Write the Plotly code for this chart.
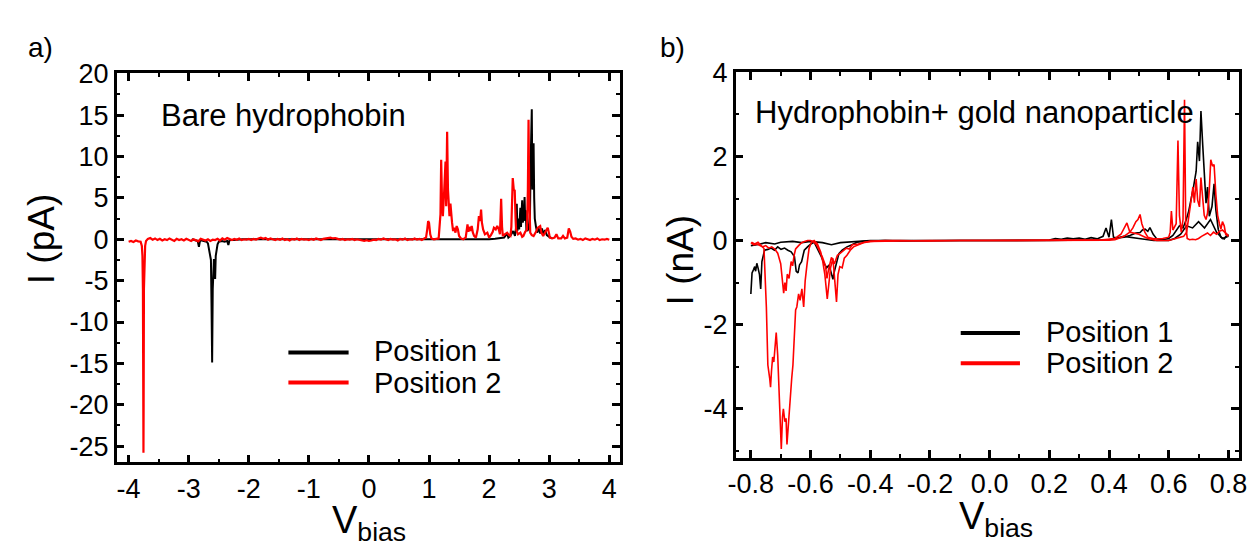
import plotly.graph_objects as go

W, H = 1258, 546

# ---------------- panel a) bare hydrophobin, current in pA ----------------
# (V_bias, I)
a_pos1 = [(-2.95, 0.0), (-2.9, -0.1), (-2.85, -0.2), (-2.83, -0.9), (-2.81, -0.1), (-2.75, -0.2),
          (-2.7, -0.3), (-2.68, -0.5), (-2.66, -1.2), (-2.64, -1.8), (-2.63, -2.5), (-2.62, -8.0),
          (-2.61, -14.9), (-2.6, -6.0), (-2.59, -3.0), (-2.58, -2.4), (-2.57, -3.1), (-2.56, -4.8),
          (-2.55, -2.0), (-2.54, -1.5), (-2.53, -0.9), (-2.52, -0.6), (-2.5, -0.3), (-2.45, -0.2),
          (-2.4, -0.3), (-2.36, -0.2), (-2.34, -0.7), (-2.32, -0.1), (-2.25, -0.1), (-2.1, 0.0),
          (-1.8, 0.0), (-1.5, 0.0), (-1.2, 0.0), (-0.9, 0.0), (-0.6, 0.0), (-0.3, 0.0), (0.0, -0.05),
          (0.3, 0.0), (0.6, 0.0), (0.9, 0.0), (1.2, 0.0), (1.5, 0.0), (1.8, 0.0), (2.0, 0.0),
          (2.1, 0.05), (2.2, 0.1), (2.25, 0.2), (2.3, 0.7), (2.32, 0.2), (2.36, 0.5), (2.4, 1.0),
          (2.43, 0.4), (2.45, 1.5), (2.46, 4.3), (2.47, 1.0), (2.49, 2.5), (2.5, 1.2), (2.52, 3.8),
          (2.53, 1.5), (2.55, 4.7), (2.56, 2.0), (2.58, 3.0), (2.59, 5.1), (2.6, 2.2), (2.61, 3.5),
          (2.62, 1.2), (2.64, 1.0), (2.66, 1.5), (2.68, 3.0), (2.69, 9.0), (2.7, 13.5), (2.71, 15.7),
          (2.72, 6.0), (2.73, 10.0), (2.74, 11.6), (2.75, 5.0), (2.76, 2.5), (2.78, 1.5), (2.8, 0.8),
          (2.82, 1.4), (2.85, 0.7), (2.88, 1.3), (2.9, 0.6), (2.93, 1.1), (2.96, 0.5), (3.0, 0.3),
          (3.05, 0.1)]

a_pos2 = [(-4.0, -0.3), (-3.96, -0.2), (-3.92, -0.32), (-3.88, -0.15), (-3.84, -0.25), (-3.8, -0.3),
          (-3.78, -0.8), (-3.77, -2.0), (-3.762, -6.0), (-3.756, -20.0), (-3.753, -25.8), (-3.75, -20.0),
          (-3.745, -6.0), (-3.737, -2.0), (-3.725, -0.8), (-3.71, -0.2), (-3.68, 0.05), (-3.64, 0.15),
          (-3.6, -0.05), (-3.56, 0.1), (-3.52, -0.1), (-3.48, 0.05), (-3.44, -0.15), (-3.4, 0.0),
          (-3.36, -0.1), (-3.32, 0.1), (-3.28, -0.05), (-3.24, -0.2), (-3.2, 0.05), (-3.16, -0.1),
          (-3.12, 0.0), (-3.08, -0.15), (-3.04, 0.05), (-3.0, -0.05), (-2.96, -0.2), (-2.92, 0.0),
          (-2.88, -0.1), (-2.84, -0.25), (-2.8, 0.05), (-2.76, -0.1), (-2.72, -0.15), (-2.68, 0.0),
          (-2.64, -0.2), (-2.6, -0.05), (-2.56, -0.1), (-2.52, 0.05), (-2.48, -0.15), (-2.44, 0.1),
          (-2.4, -0.05), (-2.36, 0.15), (-2.32, 0.0), (-2.28, -0.1), (-2.24, 0.05), (-2.2, -0.05),
          (-2.16, 0.1), (-2.12, -0.1), (-2.08, 0.0), (-2.04, -0.05), (-2.0, 0.05), (-1.96, -0.1),
          (-1.92, 0.05), (-1.88, -0.05), (-1.84, 0.1), (-1.8, 0.2), (-1.76, 0.05), (-1.72, 0.15),
          (-1.68, -0.05), (-1.64, 0.1), (-1.6, 0.0), (-1.56, -0.1), (-1.52, 0.05), (-1.48, -0.05),
          (-1.44, 0.1), (-1.4, -0.1), (-1.36, 0.0), (-1.32, -0.15), (-1.28, 0.05), (-1.24, -0.05),
          (-1.2, 0.1), (-1.16, -0.1), (-1.12, 0.05), (-1.08, -0.05), (-1.04, 0.0), (-1.0, -0.1),
          (-0.96, 0.05), (-0.92, -0.05), (-0.88, 0.1), (-0.84, 0.0), (-0.8, -0.1), (-0.76, 0.05),
          (-0.72, 0.1), (-0.68, 0.15), (-0.64, 0.2), (-0.6, 0.1), (-0.56, 0.15), (-0.52, 0.05),
          (-0.48, -0.05), (-0.44, 0.05), (-0.4, -0.1), (-0.36, 0.0), (-0.32, -0.05), (-0.28, 0.05),
          (-0.24, -0.1), (-0.2, 0.0), (-0.16, -0.05), (-0.12, -0.15), (-0.08, -0.2), (-0.04, -0.1),
          (0.0, -0.2), (0.04, -0.15), (0.08, -0.05), (0.12, -0.1), (0.16, 0.05), (0.2, -0.05),
          (0.24, 0.1), (0.28, 0.0), (0.32, -0.1), (0.36, 0.05), (0.4, -0.05), (0.44, 0.0),
          (0.48, -0.15), (0.52, 0.05), (0.56, -0.05), (0.6, 0.1), (0.64, -0.1), (0.68, 0.0),
          (0.72, -0.05), (0.76, 0.1), (0.8, -0.05), (0.84, 0.05), (0.88, -0.1), (0.92, 0.1),
          (0.95, 0.2), (0.97, 1.2), (0.985, 2.2), (1.0, 2.0), (1.02, 0.6), (1.04, 0.1), (1.08, 0.0),
          (1.12, 0.05), (1.16, 0.1), (1.19, 3.0), (1.202, 9.6), (1.215, 5.0), (1.23, 2.8), (1.25, 5.5),
          (1.274, 9.4), (1.285, 4.0), (1.301, 13.0), (1.315, 6.0), (1.328, 4.4), (1.34, 2.8),
          (1.356, 4.3), (1.37, 2.5), (1.383, 2.0), (1.4, 1.0), (1.42, 1.4), (1.44, 0.8), (1.46, 1.6),
          (1.48, 1.2), (1.5, 0.4), (1.53, 0.1), (1.57, 0.0), (1.61, 0.2), (1.64, 1.8), (1.655, 0.9),
          (1.67, 1.5), (1.69, 1.0), (1.71, 1.6), (1.73, 0.8), (1.75, 0.4), (1.78, 0.2), (1.81, 1.2),
          (1.83, 2.8), (1.85, 2.2), (1.866, 3.6), (1.88, 2.0), (1.9, 1.2), (1.93, 0.6), (1.97, 0.8),
          (2.0, 0.2), (2.03, 0.5), (2.06, 0.9), (2.08, 1.4), (2.11, 1.2), (2.135, 1.6), (2.16, 1.2),
          (2.18, 0.6), (2.2, 4.9), (2.215, 1.5), (2.228, 0.4), (2.26, 0.6), (2.3, 0.8), (2.33, 0.5),
          (2.354, 0.4), (2.37, 1.5), (2.393, 7.4), (2.41, 6.0), (2.426, 5.9), (2.44, 2.5),
          (2.448, 1.2), (2.48, 0.6), (2.52, 0.8), (2.55, 0.3), (2.57, 0.4), (2.6, 0.9), (2.63, 1.2),
          (2.645, 6.0), (2.656, 14.45), (2.668, 5.0), (2.684, 0.8), (2.71, 0.5), (2.74, 0.4),
          (2.78, 0.9), (2.81, 1.4), (2.85, 1.6), (2.87, 0.8), (2.9, 0.4), (2.94, 0.9), (2.975, 1.4),
          (3.0, 0.6), (3.01, 0.2), (3.05, 0.1), (3.09, 0.2), (3.12, 0.6), (3.15, 0.1), (3.2, 0.1),
          (3.23, 0.4), (3.26, 0.1), (3.3, 0.2), (3.326, 1.3), (3.35, 0.9), (3.37, 0.3), (3.4, 0.05),
          (3.44, 0.1), (3.48, -0.05), (3.52, 0.05), (3.56, -0.1), (3.6, 0.1), (3.64, 0.0),
          (3.68, -0.1), (3.72, 0.05), (3.76, -0.05), (3.8, 0.1), (3.84, -0.1), (3.88, 0.0),
          (3.92, -0.05), (3.96, 0.05), (4.0, -0.05)]

# ---------------- panel b) hydrophobin + gold nanoparticle, current in nA ----------------
b_pos1_up = [(-0.8, -1.27), (-0.798, -1.04), (-0.796, -0.77), (-0.791, -0.69), (-0.787, -0.62),
             (-0.784, -0.73), (-0.78, -0.54), (-0.776, -0.65), (-0.771, -0.81), (-0.767, -1.15),
             (-0.763, -0.5), (-0.758, -0.35), (-0.754, -0.23), (-0.743, -0.21), (-0.732, -0.18),
             (-0.721, -0.23), (-0.71, -0.15), (-0.699, -0.21), (-0.687, -0.18), (-0.676, -0.23),
             (-0.665, -0.27), (-0.654, -0.38), (-0.648, -0.73), (-0.642, -0.77), (-0.637, -0.58),
             (-0.63, -0.5), (-0.621, -0.23), (-0.61, -0.15), (-0.599, -0.08), (-0.588, -0.04),
             (-0.577, -0.19), (-0.566, -0.35), (-0.555, -0.54), (-0.546, -0.65), (-0.538, -0.58),
             (-0.53, -0.81), (-0.525, -0.92), (-0.52, -0.73), (-0.513, -0.54), (-0.505, -0.31),
             (-0.494, -0.23), (-0.478, -0.15), (-0.461, -0.1), (-0.445, -0.04), (-0.423, -0.02),
             (-0.4, -0.01), (-0.35, 0.0), (-0.3, -0.01), (-0.2, 0.0), (-0.1, 0.0), (0.0, 0.0),
             (0.1, 0.0), (0.2, 0.01), (0.22, 0.05), (0.24, 0.03), (0.26, 0.06), (0.28, 0.04),
             (0.3, 0.06), (0.32, 0.03), (0.34, 0.07), (0.36, 0.04), (0.38, 0.1), (0.39, 0.3),
             (0.4, 0.08), (0.408, 0.5), (0.415, 0.08), (0.43, 0.06), (0.45, 0.08), (0.47, 0.12),
             (0.49, 0.18), (0.504, 0.19), (0.512, 0.25), (0.521, 0.27), (0.53, 0.22), (0.537, 0.31),
             (0.548, 0.15), (0.56, 0.04), (0.58, 0.02), (0.6, 0.05), (0.614, 0.12), (0.625, 0.25),
             (0.636, 0.35), (0.648, 0.3), (0.659, 0.5), (0.667, 0.7), (0.675, 0.96), (0.683, 1.27),
             (0.692, 1.65), (0.697, 2.35), (0.703, 1.89), (0.708, 3.08), (0.714, 2.27), (0.719, 1.65),
             (0.725, 0.89), (0.73, 1.27), (0.736, 0.58), (0.745, 0.81), (0.752, 1.35), (0.758, 0.73),
             (0.766, 0.27), (0.775, 0.08), (0.786, 0.04), (0.797, 0.15), (0.8, 0.1)]

b_pos1_down = [(-0.8, -0.12), (-0.78, -0.1), (-0.75, -0.05), (-0.72, -0.08), (-0.7, -0.04),
               (-0.66, -0.02), (-0.63, -0.05), (-0.6, -0.02), (-0.56, -0.05), (-0.53, -0.1),
               (-0.5, -0.05), (-0.45, -0.02), (-0.4, 0.0), (-0.2, 0.0), (0.0, 0.0), (0.2, 0.0),
               (0.4, 0.02), (0.42, 0.05), (0.45, 0.1), (0.5, 0.05), (0.55, 0.0), (0.6, 0.0),
               (0.62, 0.05), (0.64, 0.15), (0.66, 0.35), (0.68, 0.3), (0.7, 0.45), (0.72, 0.3),
               (0.74, 0.5), (0.76, 0.2), (0.78, 0.05), (0.8, 0.1)]

b_pos2_up = [(-0.798, -0.04), (-0.787, -0.08), (-0.776, -0.04), (-0.765, -0.12), (-0.756, -0.19),
             (-0.748, -1.58), (-0.743, -2.96), (-0.737, -3.27), (-0.734, -3.49), (-0.731, -3.12),
             (-0.727, -2.77), (-0.723, -2.89), (-0.718, -2.5), (-0.715, -2.19), (-0.71, -2.73),
             (-0.703, -4.04), (-0.698, -4.96), (-0.694, -4.2), (-0.691, -4.0), (-0.686, -4.31),
             (-0.682, -4.23), (-0.679, -4.85), (-0.674, -4.27), (-0.669, -3.89), (-0.663, -3.27),
             (-0.659, -2.96), (-0.654, -2.23), (-0.65, -1.65), (-0.646, -1.58), (-0.64, -1.27),
             (-0.635, -1.42), (-0.629, -1.15), (-0.623, -1.58), (-0.618, -0.96), (-0.612, -0.58),
             (-0.605, -0.19), (-0.597, -0.04), (-0.588, 0.0), (-0.577, -0.08), (-0.566, -0.27),
             (-0.559, -0.5), (-0.552, -0.81), (-0.544, -1.39), (-0.538, -0.88), (-0.533, -0.65),
             (-0.525, -0.42), (-0.52, -0.96), (-0.513, -1.46), (-0.508, -0.81), (-0.502, -0.62),
             (-0.494, -0.65), (-0.487, -0.42), (-0.478, -0.35), (-0.467, -0.23), (-0.456, -0.15),
             (-0.439, -0.1), (-0.423, -0.05), (-0.4, -0.02), (-0.35, 0.0), (-0.3, 0.0),
             (-0.2, -0.01), (-0.1, 0.0), (0.0, 0.0), (0.1, 0.0), (0.2, 0.0), (0.3, 0.01),
             (0.38, 0.02), (0.42, 0.05), (0.44, 0.15), (0.455, 0.35), (0.46, 0.42), (0.47, 0.2),
             (0.48, 0.3), (0.49, 0.45), (0.497, 0.5), (0.504, 0.62), (0.51, 0.4), (0.52, 0.2),
             (0.53, 0.08), (0.55, 0.04), (0.58, 0.05), (0.6, 0.08), (0.605, 0.2), (0.609, 0.7),
             (0.614, 0.25), (0.625, 0.4), (0.631, 2.38), (0.636, 0.6), (0.642, 0.2), (0.648, 0.5),
             (0.653, 3.35), (0.657, 0.4), (0.662, 0.05), (0.67, 0.02), (0.68, 0.03), (0.69, 0.02),
             (0.7, 0.05), (0.71, 0.1), (0.72, 0.15), (0.73, 0.18), (0.74, 0.12), (0.75, 0.2),
             (0.76, 0.15), (0.77, 0.22), (0.78, 0.25), (0.79, 0.18), (0.8, 0.12)]

b_pos2_down = [(-0.8, -0.05), (-0.79, -0.1), (-0.78, -0.08), (-0.77, -0.12), (-0.76, -0.15),
               (-0.75, -0.12), (-0.74, -0.18), (-0.73, -0.15), (-0.72, -0.2), (-0.71, -0.3),
               (-0.7, -0.55), (-0.695, -0.9), (-0.69, -1.25), (-0.686, -1.0), (-0.682, -1.2),
               (-0.678, -0.8), (-0.672, -0.9), (-0.665, -0.5), (-0.66, -0.6), (-0.655, -0.35),
               (-0.65, -0.2), (-0.64, -0.12), (-0.63, -0.05), (-0.62, -0.02), (-0.61, 0.0),
               (-0.6, 0.0), (-0.59, -0.03), (-0.58, -0.1), (-0.57, -0.25), (-0.56, -0.4),
               (-0.55, -0.6), (-0.545, -0.9), (-0.54, -0.7), (-0.535, -0.5), (-0.53, -0.4),
               (-0.52, -0.55), (-0.51, -0.35), (-0.5, -0.3), (-0.49, -0.25), (-0.48, -0.18),
               (-0.47, -0.2), (-0.46, -0.1), (-0.44, -0.08), (-0.42, -0.04), (-0.4, -0.02),
               (-0.2, 0.0), (0.0, 0.0), (0.2, 0.0), (0.3, 0.0), (0.4, 0.01), (0.42, 0.02),
               (0.45, 0.1), (0.47, 0.2), (0.5, 0.15), (0.53, 0.05), (0.56, 0.0), (0.6, 0.0),
               (0.63, 0.05), (0.65, 0.1), (0.66, 0.2), (0.67, 0.65), (0.676, 1.0), (0.681, 1.27),
               (0.686, 0.9), (0.692, 1.46), (0.697, 0.96), (0.703, 0.8), (0.708, 1.5), (0.714, 1.0),
               (0.719, 0.6), (0.725, 0.5), (0.73, 0.65), (0.736, 1.2), (0.741, 1.92), (0.747, 1.77),
               (0.752, 1.81), (0.758, 1.1), (0.764, 0.6), (0.77, 0.4), (0.775, 0.27), (0.78, 0.45),
               (0.786, 0.35), (0.791, 0.15), (0.8, 0.1)]

# tick labels (hyphen minus like the original)
a_xticks = [-4, -3, -2, -1, 0, 1, 2, 3, 4]
a_xlabels = ['-4', '-3', '-2', '-1', '0', '1', '2', '3', '4']
a_yticks = [20, 15, 10, 5, 0, -5, -10, -15, -20, -25]
a_ylabels = ['20', '15', '10', '5', '0', '-5', '-10', '-15', '-20', '-25']
b_xticks = [-0.8, -0.6, -0.4, -0.2, 0.0, 0.2, 0.4, 0.6, 0.8]
b_xlabels = ['-0.8', '-0.6', '-0.4', '-0.2', '0.0', '0.2', '0.4', '0.6', '0.8']
b_yticks = [4, 2, 0, -2, -4]
b_ylabels = ['4', '2', '0', '-2', '-4']

FONT = 'Liberation Sans, Arial, sans-serif'
BLACK = '#000000'
RED = '#ff0000'


def px(x):
    return x / W


def py(y):
    return 1 - y / H


def unzip(pairs):
    return [p[0] for p in pairs], [p[1] for p in pairs]


fig = go.Figure()

v, i = unzip(a_pos1)
fig.add_scatter(x=v, y=i, mode='lines', line=dict(color=BLACK, width=2), name='Position 1',
                xaxis='x', yaxis='y', showlegend=False)
v, i = unzip(a_pos2)
fig.add_scatter(x=v, y=i, mode='lines', line=dict(color=RED, width=2.2), name='Position 2',
                xaxis='x', yaxis='y', showlegend=False)

for sweep in [b_pos1_up, b_pos1_down]:
    v, i = unzip(sweep)
    fig.add_scatter(x=v, y=i, mode='lines', line=dict(color=BLACK, width=1.6), name='Position 1',
                    xaxis='x2', yaxis='y2', showlegend=False)
for sweep in [b_pos2_down, b_pos2_up]:
    v, i = unzip(sweep)
    fig.add_scatter(x=v, y=i, mode='lines', line=dict(color=RED, width=1.6), name='Position 2',
                    xaxis='x2', yaxis='y2', showlegend=False)


def axis(rng, dom, vals, labels, minor_step, anchor):
    return dict(range=rng, domain=dom, anchor=anchor, tickmode='array', tickvals=vals, ticktext=labels,
                ticks='inside', ticklen=8, tickwidth=2.5, tickcolor=BLACK,
                showline=True, linewidth=2.5, linecolor=BLACK, mirror='ticks',
                showgrid=False, zeroline=False, tickfont=dict(family=FONT, size=27, color=BLACK),
                minor=dict(ticks='inside', ticklen=4, tickwidth=2, tickcolor=BLACK,
                           tickmode='linear', tick0=0, dtick=minor_step, showgrid=False))


fig.update_layout(
    width=W, height=H, autosize=False,
    margin=dict(l=0, r=0, t=0, b=0),
    paper_bgcolor='white', plot_bgcolor='white',
    font=dict(family=FONT, color=BLACK),
    xaxis=axis([-4.2, 4.18], [px(110), px(620)], a_xticks, a_xlabels, 0.5, 'y'),
    yaxis=axis([-26.96, 20.05], [py(460), py(60)], a_yticks, a_ylabels, 2.5, 'x'),
    xaxis2=axis([-0.851, 0.836], [px(737), px(1247)], b_xticks, b_xlabels, 0.1, 'y2'),
    yaxis2=axis([-5.16, 4.0], [py(455), py(59)], b_yticks, b_ylabels, 1, 'x2'),
)

# panel labels, inset titles, legend texts
notes = [
    dict(text='a)', x=18, y=33, size=28),
    dict(text='b)', x=658, y=33, size=28),
    dict(text='Bare hydrophobin', x=153, y=103, size=31),
    dict(text='Hydrophobin+ gold nanoparticle', x=755, y=100, size=31),
    dict(text='Position 1', x=369, y=346, size=29),
    dict(text='Position 2', x=369, y=378, size=29),
    dict(text='Position 1', x=1049, y=326, size=29),
    dict(text='Position 2', x=1049, y=358, size=29),
]
for n in notes:
    fig.add_annotation(text=n['text'], x=px(n['x']), y=py(n['y']), xref='paper', yref='paper',
                       xanchor='left', yanchor='middle', showarrow=False,
                       font=dict(family=FONT, size=n['size'], color=BLACK))

for x, y, t in [(34, 231, 'I (pA)'), (681, 252, 'I (nA)')]:
    fig.add_annotation(text=t, x=px(x), y=py(y), xref='paper', yref='paper', textangle=-90,
                       xanchor='center', yanchor='middle', showarrow=False,
                       font=dict(family=FONT, size=37, color=BLACK))

for x, y in [(366, 496), (1001, 492)]:
    fig.add_annotation(text='V<sub>bias</sub>', x=px(x), y=py(y), xref='paper', yref='paper',
                       xanchor='center', yanchor='top', showarrow=False,
                       font=dict(family=FONT, size=38, color=BLACK))

# hand-drawn legend keys like the original
for x0, x1, y, c in [(284, 345, 347, BLACK), (284, 345, 378, RED),
                     (965, 1025, 327, BLACK), (965, 1025, 358, RED)]:
    fig.add_shape(type='line', xref='paper', yref='paper', x0=px(x0), x1=px(x1), y0=py(y), y1=py(y),
                  line=dict(color=c, width=4))

# no page margin, so the figure sits at the window's top-left corner; no mode bar
fig.write_html('out.html', config={'displayModeBar': False},
               post_script="document.body.style.margin='0';")
